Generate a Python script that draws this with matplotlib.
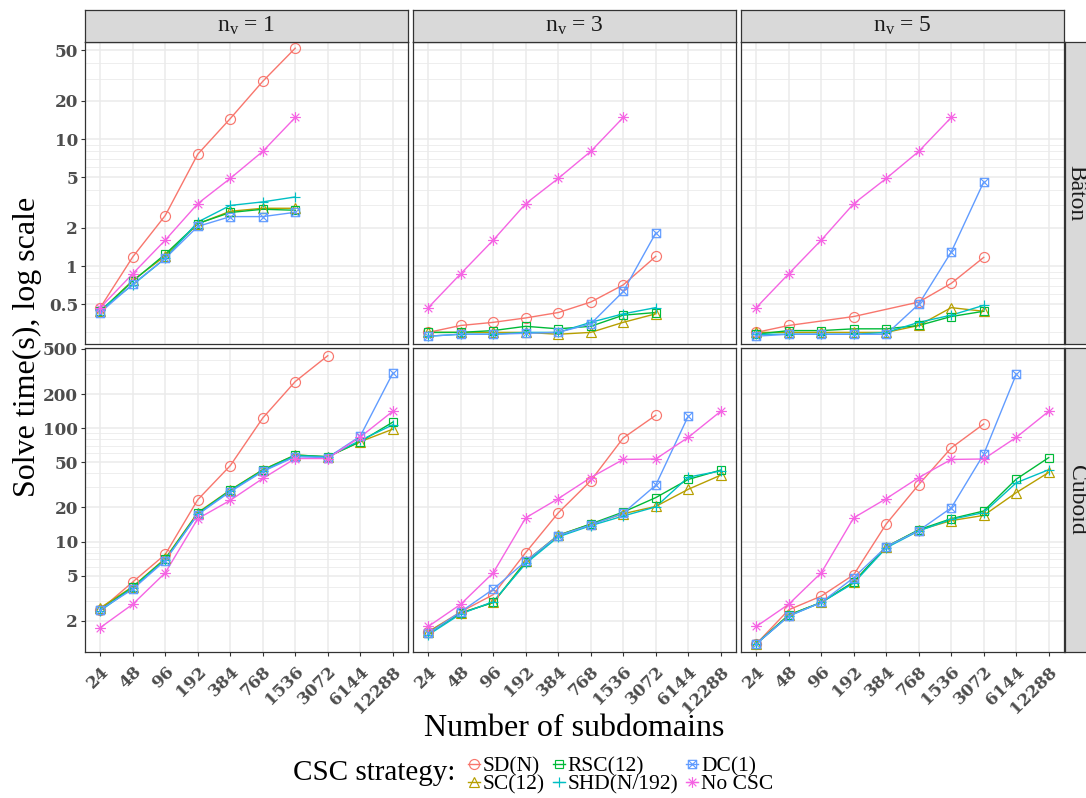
import numpy as np
import matplotlib
matplotlib.use('Agg')
import matplotlib.pyplot as plt
from matplotlib.path import Path
from matplotlib.lines import Line2D
from matplotlib.ticker import FixedLocator, NullFormatter

# ---------------- data ----------------
x_labels = ['24', '48', '96', '192', '384', '768', '1536', '3072', '6144', '12288']
strategies = ['SD(N)', 'SC(12)', 'RSC(12)', 'SHD(N/192)', 'DC(1)', 'No CSC']
colors = ['#F8766D', '#B79F00', '#00BA38', '#00BFC4', '#619CFF', '#F564E3']
nv_values = [1, 3, 5]
geometries = ['Bâton', 'Cuboid']
nan = np.nan

baton_nv1 = {
    'SD(N)':      [0.47, 1.18, 2.5, 7.6, 14.5, 28.5, 52],
    'SC(12)':     [0.44, 0.77, 1.2, 2.15, 2.7, 2.85, 2.85],
    'RSC(12)':    [0.44, 0.76, 1.24, 2.16, 2.64, 2.8, 2.75],
    'SHD(N/192)': [0.45, 0.71, 1.15, 2.22, 3.0, 3.2, 3.5],
    'DC(1)':      [0.43, 0.72, 1.15, 2.05, 2.45, 2.45, 2.65],
    'No CSC':     [0.47, 0.87, 1.6, 3.1, 4.9, 8.0, 14.8],
}
baton_nv3 = {
    'SD(N)':      [0.30, 0.34, 0.36, 0.39, 0.43, 0.52, 0.71, 1.19],
    'SC(12)':     [0.30, 0.30, 0.30, 0.30, 0.29, 0.30, 0.36, 0.42],
    'RSC(12)':    [0.30, 0.30, 0.31, 0.335, 0.32, 0.335, 0.41, 0.43],
    'SHD(N/192)': [0.28, 0.29, 0.29, 0.30, 0.30, 0.36, 0.42, 0.47],
    'DC(1)':      [0.28, 0.29, 0.29, 0.295, 0.30, 0.35, 0.63, 1.82],
    'No CSC':     [0.47, 0.87, 1.6, 3.1, 4.9, 8.0, 14.8],
}
baton_nv5 = {
    'SD(N)':      [0.30, 0.34, nan, 0.40, nan, 0.52, 0.73, 1.17],
    'SC(12)':     [0.30, 0.30, 0.30, 0.30, 0.30, 0.34, 0.47, 0.44],
    'RSC(12)':    [0.29, 0.31, 0.31, 0.32, 0.32, 0.34, 0.40, 0.44],
    'SHD(N/192)': [0.29, 0.29, 0.29, 0.29, 0.30, 0.36, 0.41, 0.49],
    'DC(1)':      [0.28, 0.29, 0.29, 0.29, 0.29, 0.50, 1.29, 4.6],
    'No CSC':     [0.47, 0.87, 1.6, 3.1, 4.9, 8.0, 14.8],
}
cuboid_nv1 = {
    'SD(N)':      [2.5, 4.4, 7.7, 23.4, 46.7, 123, 258, 436],
    'SC(12)':     [2.6, 4.0, 7.1, 18, 28.5, 43, 58, 56, 76, 98],
    'RSC(12)':    [2.5, 3.96, 7.0, 17.7, 28.3, 42.7, 58, 56, 76, 113],
    'SHD(N/192)': [2.45, 3.9, 6.9, 17.5, 28, 42, 57, 56, 78, 107],
    'DC(1)':      [2.5, 3.8, 6.8, 17.3, 27.5, 41.5, 56, 55, 85, 305],
    'No CSC':     [1.74, 2.8, 5.3, 15.9, 23.1, 36, 54, 54, 83.5, 141],
}
cuboid_nv3 = {
    'SD(N)':      [1.6, 2.4, 3.4, 8.0, 17.9, 34.4, 82, 130],
    'SC(12)':     [1.6, 2.35, 2.9, 6.7, 11.4, 14.2, 17.6, 20.4, 28.9, 38.5],
    'RSC(12)':    [1.55, 2.34, 2.9, 6.6, 11.3, 14.3, 18.2, 24.4, 35.3, 42.7],
    'SHD(N/192)': [1.5, 2.3, 2.95, 6.4, 11.0, 13.8, 16.8, 20.2, 37, 42],
    'DC(1)':      [1.55, 2.4, 3.8, 6.7, 11.3, 14.0, 17.8, 31.4, 128],
    'No CSC':     [1.78, 2.8, 5.3, 16.2, 23.9, 36.7, 53, 53.5, 83, 141],
}
cuboid_nv5 = {
    'SD(N)':      [1.25, 2.5, 3.3, 5.1, 14.3, 31.8, 67, 109],
    'SC(12)':     [1.25, 2.25, 2.9, 4.4, 9.0, 12.6, 15.3, 17, 27, 40.7],
    'RSC(12)':    [1.25, 2.25, 2.9, 4.4, 9.0, 12.7, 15.9, 18.6, 35.5, 55],
    'SHD(N/192)': [1.25, 2.2, 2.9, 4.3, 8.8, 12.4, 15.7, 18, 33, 43],
    'DC(1)':      [1.25, 2.2, 2.9, 4.8, 9.0, 12.5, 19.8, 59, 299],
    'No CSC':     [1.78, 2.8, 5.3, 16.2, 23.9, 36.7, 53, 53.5, 83, 141],
}

y_ticks_baton = [0.5, 1, 2, 5, 10, 20, 50]
y_ticks_cuboid = [2, 5, 10, 20, 50, 100, 200, 500]

# ---------------- style ----------------
plt.rcParams['font.family'] = ['Liberation Serif', 'DejaVu Serif']
plt.rcParams['mathtext.fontset'] = 'custom'
plt.rcParams['mathtext.rm'] = 'Liberation Serif'
plt.rcParams['mathtext.it'] = 'Liberation Serif:italic'

W, H = 1086, 798
fig = plt.figure(figsize=(W / 100, H / 100), dpi=100)

sq_x = Path([(-1, -1), (1, -1), (1, 1), (-1, 1), (-1, -1),
             (-1, -1), (1, 1), (-1, 1), (1, -1)],
            [Path.MOVETO, Path.LINETO, Path.LINETO, Path.LINETO, Path.CLOSEPOLY,
             Path.MOVETO, Path.LINETO, Path.MOVETO, Path.LINETO])
d = 0.7071
star = Path([(0, -1), (0, 1), (-1, 0), (1, 0), (-d, -d), (d, d), (-d, d), (d, -d)],
            [Path.MOVETO, Path.LINETO] * 4)
markers = ['o', '^', 's', '+', sq_x, star]
msizes = [7.2, 7.6, 6.0, 7.6, 6.0, 7.8]

panel_data = [[baton_nv1, baton_nv3, baton_nv5],
              [cuboid_nv1, cuboid_nv3, cuboid_nv5]]
row_ticks = [y_ticks_baton, y_ticks_cuboid]
row_ylim = [(0.243, 58.5), (1.06, 510)]

col_left = [85, 413, 741]
col_w = 323
row_top = [41.7, 348]
row_bot = [344, 652]

tick_font = dict(family='DejaVu Serif', weight='bold', size=12.2)
grid_col = '#EBEBEB'
edge_col = '#333333'


def fx(px):
    return px / W


def fy(py):
    return 1 - py / H


def minor_vals(lo, hi):
    out = []
    for k in range(-2, 4):
        for m in range(1, 10):
            v = m * 10.0 ** k
            if lo <= v <= hi:
                out.append(v)
    return out


for r in range(2):
    for c in range(3):
        ax = fig.add_axes([fx(col_left[c]), fy(row_bot[r]), fx(col_w),
                           (row_bot[r] - row_top[r]) / H])
        ax.set_yscale('log')
        dset = panel_data[r][c]
        for i, s in enumerate(strategies):
            vals = np.array(dset[s], dtype=float)
            xs = np.arange(len(vals))
            m = ~np.isnan(vals)
            ax.plot(xs[m], vals[m], color=colors[i], lw=1.0, zorder=2)
        for i, s in enumerate(strategies):
            vals = np.array(dset[s], dtype=float)
            xs = np.arange(len(vals))
            m = ~np.isnan(vals)
            ax.plot(xs[m], vals[m], linestyle='none', marker=markers[i],
                    ms=msizes[i], mec=colors[i], mfc='none', mew=0.85,
                    color=colors[i], zorder=3)
        ax.set_xlim(-0.47, 9.47)
        ax.set_ylim(*row_ylim[r])
        ax.set_xticks(range(len(x_labels)))
        ax.yaxis.set_major_locator(FixedLocator(row_ticks[r]))
        ax.yaxis.set_minor_locator(FixedLocator(minor_vals(*row_ylim[r])))
        ax.yaxis.set_minor_formatter(NullFormatter())
        ax.set_yticklabels([('%g' % v) for v in row_ticks[r]], **tick_font,
                           color='#4D4D4D')
        ax.set_axisbelow(True)
        ax.grid(which='major', color=grid_col, lw=1.1)
        ax.grid(which='minor', axis='y', color=grid_col, lw=0.6)
        ax.tick_params(which='minor', length=0)
        ax.tick_params(which='major', length=3, width=0.8, color=edge_col, pad=2)
        for sp in ax.spines.values():
            sp.set_color(edge_col)
            sp.set_linewidth(0.9)
        if c > 0:
            ax.tick_params(axis='y', which='major', length=0, labelleft=False)
        if r == 0:
            ax.tick_params(axis='x', length=0, labelbottom=False)
        else:
            ax.set_xticklabels(x_labels, rotation=45, ha='right', va='top',
                               rotation_mode='anchor', color='#4D4D4D', **tick_font)
            ax.tick_params(axis='x', pad=5)

# strips on top
for c in range(3):
    sax = fig.add_axes([fx(col_left[c]), fy(41.7), fx(col_w), (41.7 - 10) / H])
    sax.set_facecolor('#D9D9D9')
    sax.set_xticks([]); sax.set_yticks([])
    for sp in sax.spines.values():
        sp.set_color(edge_col); sp.set_linewidth(0.9)
    sax.text(0.5, 0.5, r'n$_{\mathregular{v}}$ = %d' % nv_values[c],
             transform=sax.transAxes, ha='center', va='center',
             fontsize=17, color='#1A1A1A')

# strips on right
for r in range(2):
    sax = fig.add_axes([fx(1065), fy(row_bot[r]), fx(40),
                        (row_bot[r] - row_top[r]) / H])
    sax.set_facecolor('#D9D9D9')
    sax.set_xticks([]); sax.set_yticks([])
    for sp in sax.spines.values():
        sp.set_color(edge_col); sp.set_linewidth(0.9)
    fig.text(fx(1076), fy((row_top[r] + row_bot[r]) / 2), geometries[r],
             rotation=-90, ha='center', va='center', fontsize=17,
             color='#1A1A1A')

fig.text(fx(27), fy((41.7 + 652) / 2), 'Solve time(s), log scale',
         rotation=90, ha='center', va='center', fontsize=23)
fig.text(fx(574.5), fy(728), 'Number of subdomains', ha='center',
         va='center', fontsize=23)

# legend
handles = [Line2D([], [], color=colors[i], lw=1.0, marker=markers[i],
                  ms=msizes[i], mfc='none', mec=colors[i], mew=0.85)
           for i in range(len(strategies))]
fig.text(fx(293), fy(780), 'CSC strategy:', ha='left', va='baseline',
         fontsize=21)
fig.legend(handles, strategies, ncol=3, loc='center left',
           bbox_to_anchor=(fx(468), fy(775.5)), frameon=False, fontsize=15.5,
           handlelength=0.55, handletextpad=0.15, columnspacing=0.35,
           labelspacing=-0.1, borderpad=0, borderaxespad=0)

fig.savefig('out.png', dpi=100)
